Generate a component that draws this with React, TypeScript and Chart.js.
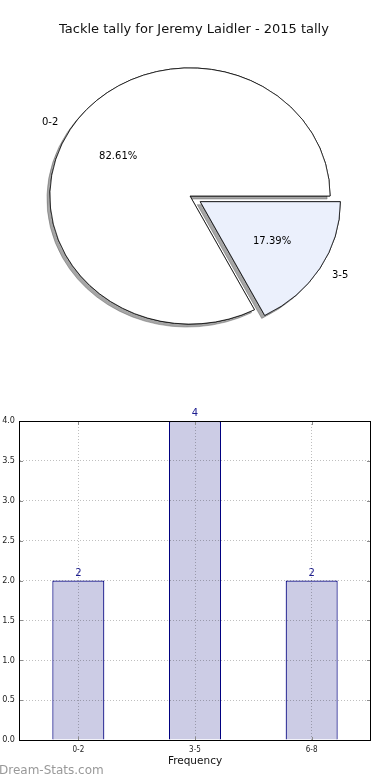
import React, { useEffect, useRef } from "react";
import { Chart, registerables } from "chart.js";

Chart.register(...registerables);

// ---------- data ----------
const PIE_LABELS = ["0-2", "3-5"];
const PIE_VALUES = [19, 4];
const PIE_COLORS = ["#ffffff", "#ebf0fc"];
const PIE_EXPLODE = [0, 12];

const BAR_LABELS = ["0-2", "3-5", "6-8"];
const BAR_VALUES = [2, 4, 2];
const Y_TICKS = [0, 0.5, 1, 1.5, 2, 2.5, 3, 3.5, 4];

const TITLE = "Tackle tally for Jeremy Laidler - 2015 tally";
const X_TITLE = "Frequency";
const WATERMARK = "Dream-Stats.com";

const FONT = "'DejaVu Sans', sans-serif";
const TICK_FONT = "'DejaVu Sans Condensed', 'DejaVu Sans', sans-serif";
const ELLIPSE_RATIO = 128 / 140;

function PieChart() {
  const ref = useRef<HTMLCanvasElement>(null);
  useEffect(() => {
    if (!ref.current) return;
    const total = PIE_VALUES.reduce((a, b) => a + b, 0);

    const ellipsePlugin = {
      id: "ellipsePie",
      beforeDatasetDraw(chart: any, args: any) {
        const ctx = chart.ctx as CanvasRenderingContext2D;
        const a = chart.chartArea;
        const cy = (a.top + a.bottom) / 2;
        const arcs = args.meta.data;
        const drawAll = () =>
          arcs.forEach((arc: any, i: number) => {
            const mid = (arc.startAngle + arc.endAngle) / 2;
            ctx.save();
            ctx.translate(Math.cos(mid) * PIE_EXPLODE[i], Math.sin(mid) * PIE_EXPLODE[i]);
            arc.draw(ctx);
            ctx.restore();
          });
        ctx.save();
        ctx.translate(0, cy);
        ctx.scale(1, ELLIPSE_RATIO);
        ctx.translate(0, -cy);
        ctx.shadowColor = "rgba(77,77,77,0.5)";
        ctx.shadowOffsetX = -3;
        ctx.shadowOffsetY = 3;
        ctx.shadowBlur = 0;
        drawAll();
        ctx.shadowColor = "rgba(0,0,0,0)";
        ctx.shadowOffsetX = 0;
        ctx.shadowOffsetY = 0;
        drawAll();
        ctx.restore();
        return false;
      },
      afterDatasetsDraw(chart: any) {
        const ctx = chart.ctx as CanvasRenderingContext2D;
        const a = chart.chartArea;
        const cx = (a.left + a.right) / 2;
        const cy = (a.top + a.bottom) / 2;
        const meta = chart.getDatasetMeta(0);
        ctx.save();
        ctx.fillStyle = "#000";
        ctx.font = `10px ${FONT}`;
        ctx.textBaseline = "middle";
        meta.data.forEach((arc: any, i: number) => {
          const mid = (arc.startAngle + arc.endAngle) / 2;
          const r = arc.outerRadius;
          const bx = arc.x + Math.cos(mid) * PIE_EXPLODE[i];
          const by = arc.y + Math.sin(mid) * PIE_EXPLODE[i];
          const toY = (y: number) => cy + (y - cy) * ELLIPSE_RATIO;
          const lx = bx + Math.cos(mid) * r * 1.1;
          const ly = toY(by + Math.sin(mid) * r * 1.1);
          ctx.textAlign = Math.cos(mid) < 0 ? "right" : "left";
          ctx.fillText(PIE_LABELS[i], lx, ly);
          const px = bx + Math.cos(mid) * r * 0.6;
          const py = toY(by + Math.sin(mid) * r * 0.6);
          ctx.textAlign = "center";
          ctx.fillText(((PIE_VALUES[i] / total) * 100).toFixed(2) + "%", px, py);
        });
        // title
        ctx.fillStyle = "#111";
        ctx.font = `13px ${FONT}`;
        ctx.textAlign = "center";
        ctx.textBaseline = "middle";
        ctx.fillText(TITLE, cx + 4, 29.8);
        ctx.restore();
      },
    };

    const chart = new Chart(ref.current, {
      type: "pie",
      data: {
        labels: PIE_LABELS,
        datasets: [
          {
            data: PIE_VALUES,
            backgroundColor: PIE_COLORS,
            borderColor: "#000",
            borderWidth: 0.8,
            borderJoinStyle: "miter",
          } as any,
        ],
      },
      options: {
        responsive: false,
        animation: false,
        events: [],
        rotation: 90 + (360 * PIE_VALUES[1]) / total,
        layout: { padding: { left: 49.5, right: 59.5, top: 55.5, bottom: 63.5 } },
        plugins: {
          legend: { display: false },
          tooltip: { enabled: false },
          title: { display: false },
        },
      } as any,
      plugins: [ellipsePlugin as any],
    });
    return () => chart.destroy();
  }, []);
  return (
    <canvas
      ref={ref}
      width={390}
      height={400}
      style={{ position: "absolute", left: 0, top: 0, display: "block" }}
    />
  );
}

function BarChart() {
  const ref = useRef<HTMLCanvasElement>(null);
  useEffect(() => {
    if (!ref.current) return;
    const decor = {
      id: "barDecor",
      afterDatasetsDraw(chart: any) {
        const ctx = chart.ctx as CanvasRenderingContext2D;
        const meta = chart.getDatasetMeta(0);
        ctx.save();
        ctx.fillStyle = "#1c1c90";
        ctx.font = `10px ${FONT}`;
        ctx.textAlign = "center";
        ctx.textBaseline = "alphabetic";
        meta.data.forEach((bar: any, i: number) => {
          ctx.fillText(String(BAR_VALUES[i]), bar.x, bar.y - 5);
        });
        ctx.restore();
      },
      afterDraw(chart: any) {
        const ctx = chart.ctx as CanvasRenderingContext2D;
        const a = chart.chartArea;
        const xs = chart.scales.x;
        const ys = chart.scales.y;
        ctx.save();
        // inward tick marks
        ctx.strokeStyle = "#8c8c8c";
        ctx.lineWidth = 1;
        ctx.beginPath();
        Y_TICKS.forEach((v) => {
          const y = Math.round(ys.getPixelForValue(v)) + 0.5;
          ctx.moveTo(a.left, y);
          ctx.lineTo(a.left + 3, y);
          ctx.moveTo(a.right, y);
          ctx.lineTo(a.right - 3, y);
        });
        BAR_LABELS.forEach((_, i) => {
          const x = Math.round(xs.getPixelForValue(i)) + 0.5;
          ctx.moveTo(x, a.top + 1);
          ctx.lineTo(x, a.top + 4);
          ctx.moveTo(x, a.bottom);
          ctx.lineTo(x, a.bottom - 3);
        });
        ctx.stroke();
        // frame
        ctx.strokeStyle = "#000";
        ctx.lineWidth = 1;
        ctx.strokeRect(a.left - 0.5, a.top + 0.5, a.right - a.left + 1, a.bottom - a.top);
        ctx.restore();
      },
    };

    const gridCommon = { color: "rgba(0,0,0,0.25)", lineWidth: 1, drawTicks: false, z: 1 };
    const chart = new Chart(ref.current, {
      type: "bar",
      data: {
        labels: BAR_LABELS,
        datasets: [
          {
            data: BAR_VALUES,
            backgroundColor: "#ccccE5",
            borderColor: "#000080",
            borderWidth: 1.2,
            barPercentage: 0.446,
            categoryPercentage: 1,
          },
        ],
      },
      options: {
        responsive: false,
        animation: false,
        events: [],
        layout: { padding: { left: 0, right: 20, top: 21, bottom: 0 } },
        plugins: { legend: { display: false }, tooltip: { enabled: false } },
        scales: {
          x: {
            offset: true,
            grid: { ...gridCommon, offset: false },
            border: { display: false, dash: [1, 2] },
            ticks: { color: "#222", font: { family: TICK_FONT, size: 8 }, padding: 5, maxRotation: 0 },
            title: {
              display: true,
              text: X_TITLE,
              color: "#111",
              font: { family: FONT, size: 10.5 },
              padding: { top: 12, bottom: 12 },
            },
            afterFit: (s: any) => {
              s.height = 40;
            },
          },
          y: {
            min: 0,
            max: 4,
            grid: gridCommon,
            border: { display: false, dash: [1, 2] },
            ticks: {
              color: "#222",
              font: { family: TICK_FONT, size: 9 },
              padding: 5,
              callback: (v: any) => Number(v).toFixed(1),
            },
            afterBuildTicks: (s: any) => {
              s.ticks = Y_TICKS.map((v) => ({ value: v }));
            },
            afterFit: (s: any) => {
              s.width = 20;
            },
          },
        },
      } as any,
      plugins: [decor as any],
    });
    return () => chart.destroy();
  }, []);
  return (
    <canvas
      ref={ref}
      width={390}
      height={380}
      style={{ position: "absolute", left: 0, top: 400, display: "block" }}
    />
  );
}

export default function App() {
  return (
    <div style={{ position: "absolute", left: 0, top: 0, width: 390, height: 780, background: "#fff" }}>
      <PieChart />
      <BarChart />
      <div
        style={{
          position: "absolute",
          left: -1,
          top: 763,
          fontFamily: FONT,
          fontSize: 12,
          lineHeight: "14px",
          color: "#999999",
          whiteSpace: "nowrap",
        }}
      >
        {WATERMARK}
      </div>
    </div>
  );
}
